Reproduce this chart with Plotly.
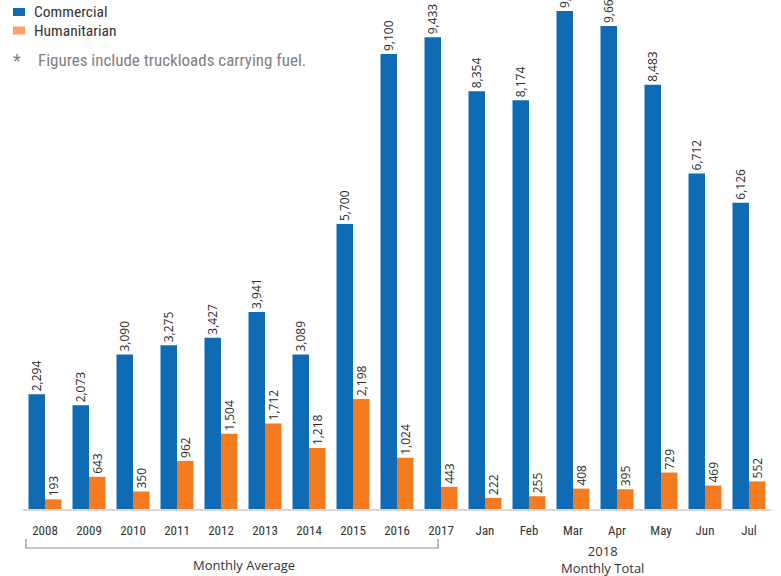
import plotly.graph_objects as go

categories = ["2008", "2009", "2010", "2011", "2012", "2013", "2014", "2015", "2016", "2017",
              "Jan", "Feb", "Mar", "Apr", "May", "Jun", "Jul"]
commercial = [2294, 2073, 3090, 3275, 3427, 3941, 3089, 5700, 9100, 9433,
              8354, 8174, 9960, 9660, 8483, 6712, 6126]
humanitarian = [193, 643, 350, 962, 1504, 1712, 1218, 2198, 1024, 443,
                222, 255, 408, 395, 729, 469, 552]

BLUE = "#0f6cb4"
ORANGE = "#f47b20"
ORANGE_LEG = "#f9a066"
NARROW = "Roboto Condensed, Liberation Sans Narrow, sans-serif"
LABEL_FONT = "Open Sans, Noto Sans, sans-serif"

W, H = 781, 576
L, R, T, B = 23, 10, 0, 67
PW, PH = W - L - R, H - T - B


def px(x):
    return (x - L) / PW


def py(y):
    return (H - B - y) / PH


def fmt(v):
    return f"{v:,}"


fig = go.Figure()
fig.add_trace(go.Bar(
    x=categories, y=commercial, name="Commercial", marker_color=BLUE,
    marker_line_width=0,
    text=[fmt(v) for v in commercial], textposition="outside", textangle=-90,
    textfont=dict(family=LABEL_FONT, size=12, color="#2b2b2b"),
    constraintext="none", cliponaxis=True,
))
fig.add_trace(go.Bar(
    x=categories, y=humanitarian, name="Humanitarian", marker_color=ORANGE,
    marker_line_width=0,
    text=[fmt(v) for v in humanitarian], textposition="outside", textangle=-90,
    textfont=dict(family=LABEL_FONT, size=12, color="#2b2b2b"),
    constraintext="none", cliponaxis=True,
))

fig.update_layout(
    width=W, height=H,
    margin=dict(l=L, r=R, t=T, b=B),
    barmode="group", bargap=0.25, bargroupgap=0,
    plot_bgcolor="white", paper_bgcolor="white",
    showlegend=False,
    xaxis=dict(showline=True, linecolor="#d9d9d9", linewidth=2, ticks="",
               ticklabelstandoff=8,
               tickfont=dict(family=NARROW, size=13, color="#333333"),
               showgrid=False, fixedrange=True),
    yaxis=dict(range=[0, 10180], visible=False, showgrid=False, fixedrange=True),
)

shapes = []
annotations = []
# legend
for i, (name, col) in enumerate([("Commercial", BLUE), ("Humanitarian", ORANGE_LEG)]):
    yc = 12 + i * 18.5
    shapes.append(dict(type="rect", xref="paper", yref="paper",
                       x0=px(13), x1=px(25), y0=py(yc - 4), y1=py(yc + 4),
                       fillcolor=col, line_width=0))
    annotations.append(dict(text=name, xref="paper", yref="paper",
                            x=px(32), y=py(yc), xanchor="left", yanchor="middle",
                            showarrow=False,
                            font=dict(family=NARROW, size=15.5, color="#333333")))
annotations.append(dict(text="*", xref="paper", yref="paper", x=px(17), y=py(60),
                        xanchor="center", yanchor="middle", showarrow=False,
                        font=dict(family=NARROW, size=18, color="#808080")))
annotations.append(dict(text="Figures include truckloads carrying fuel.", xref="paper",
                        yref="paper", x=px(36), y=py(60), xanchor="left",
                        yanchor="middle", showarrow=False,
                        font=dict(family=NARROW, size=17, color="#808080")))

# bracket under the yearly averages
shapes.append(dict(type="path", xref="paper", yref="paper",
                   path=f"M {px(26)},{py(539)} L {px(26)},{py(548)} L {px(438)},{py(548)} L {px(438)},{py(539)}",
                   line=dict(color="#8c8c8c", width=1.2)))
annotations.append(dict(text="Monthly Average", xref="paper", yref="paper",
                        x=px(244), y=py(565), xanchor="center", yanchor="middle",
                        showarrow=False,
                        font=dict(family=LABEL_FONT, size=13, color="#333333")))
annotations.append(dict(text="2018<br>Monthly Total", xref="paper", yref="paper",
                        x=px(602), y=py(560), xanchor="center", yanchor="middle",
                        showarrow=False,
                        font=dict(family=LABEL_FONT, size=13, color="#333333")))

fig.update_layout(shapes=shapes, annotations=annotations)
fig.write_html("out.html")
